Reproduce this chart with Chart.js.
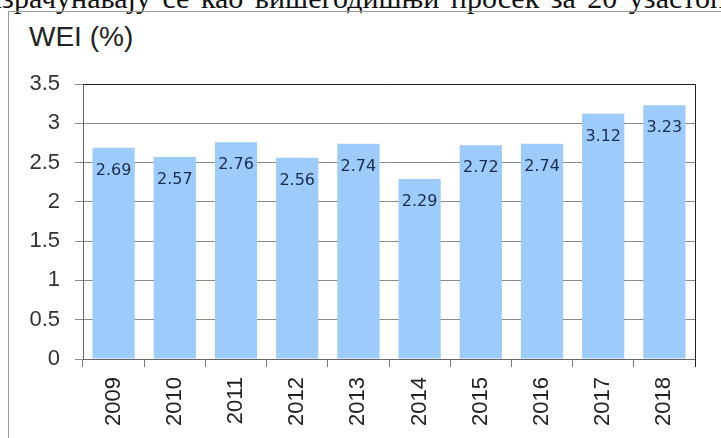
<!DOCTYPE html>
<html>
<head>
<meta charset="utf-8">
<script src="https://cdn.jsdelivr.net/npm/chart.js@4.4.0/dist/chart.umd.min.js"></script>
<style>
    html, body { margin: 0; padding: 0; background: #fff; }
    body { width: 721px; height: 438px; overflow: hidden; position: relative; }
    #textoArriba {
        position: absolute; left: -14px; top: -17px; white-space: nowrap;
        font-family: 'Liberation Serif', serif; font-size: 30px; line-height: 30px; color: #111;
        word-spacing: 4px;
    }
    #marco {
        position: absolute; left: 8px; top: 11px; width: 800px; height: 500px;
        border: 1px solid #9a9a9a;
    }
    #titulo {
        position: absolute; left: 29px; top: 23px; line-height: 28px;
        font-family: 'Liberation Sans', Arial, sans-serif; font-size: 28px; color: #222;
    }
    #contenedor { position: absolute; left: 0; top: 0; width: 721px; height: 438px; }
</style>
</head>
<body>
<div id="textoArriba">израчунавају се као вишегодишњи просек за 20 узастопних</div>
<div id="marco"></div>
<div id="titulo">WEI (%)</div>
<div id="contenedor"><canvas id="graficoWEI"></canvas></div>

<script>
// Datos del grafico
const anios = ['2009', '2010', '2011', '2012', '2013', '2014', '2015', '2016', '2017', '2018'];
const valoresWEI = [2.69, 2.57, 2.76, 2.56, 2.74, 2.29, 2.72, 2.74, 3.12, 3.23];
const etiquetasEjeY = [0, 0.5, 1, 1.5, 2, 2.5, 3, 3.5];

// Etiquetas dentro de cada barra, y borde superior/derecho del area
const pluginEtiquetas = {
    id: 'etiquetasBarras',
    afterDatasetsDraw(chart) {
        const ctx = chart.ctx;
        const area = chart.chartArea;
        const meta = chart.getDatasetMeta(0);

        ctx.save();
        ctx.strokeStyle = '#222';
        ctx.lineWidth = 1;
        ctx.beginPath();
        ctx.moveTo(area.left, Math.round(area.top) + 0.5);
        ctx.lineTo(Math.round(area.right) + 0.5, Math.round(area.top) + 0.5);
        ctx.lineTo(Math.round(area.right) + 0.5, area.bottom + 8);
        ctx.stroke();

        ctx.fillStyle = '#1c2a4c';
        ctx.font = '16px "DejaVu Sans", Verdana, sans-serif';
        ctx.textAlign = 'center';
        ctx.textBaseline = 'middle';
        meta.data.forEach(function (barra, i) {
            ctx.fillText(valoresWEI[i].toFixed(2), barra.x, barra.y + 23);
        });
        ctx.restore();
    }
};

document.addEventListener('DOMContentLoaded', function () {
    var ctx = document.getElementById('graficoWEI').getContext('2d');

    var myChart = new Chart(ctx, {
        type: 'bar',
        data: {
            labels: anios,
            datasets: [{
                label: 'WEI (%)',
                data: valoresWEI,
                backgroundColor: '#9dcbfb',
                borderWidth: 0,
                barPercentage: 0.69,
                categoryPercentage: 1.0
            }]
        },
        options: {
            responsive: true,
            maintainAspectRatio: false,
            animation: false,
            layout: {
                padding: { left: 0, top: 84, right: 26, bottom: 0 }
            },
            plugins: {
                legend: { display: false },
                tooltip: { enabled: false }
            },
            scales: {
                x: {
                    afterFit: function (escala) { escala.height = 79; },
                    grid: {
                        drawOnChartArea: false,
                        drawTicks: true,
                        tickLength: 8,
                        color: '#777',
                        offset: true
                    },
                    border: { color: '#666', width: 1 },
                    ticks: {
                        minRotation: 90,
                        maxRotation: 90,
                        padding: 10,
                        color: '#222',
                        font: { family: "'Liberation Sans', Arial, sans-serif", size: 22 }
                    }
                },
                y: {
                    min: 0,
                    max: 3.5,
                    afterFit: function (escala) { escala.width = 83; },
                    afterBuildTicks: function (escala) {
                        escala.ticks = etiquetasEjeY.map(v => ({ value: v }));
                    },
                    grid: {
                        color: '#8a8a8a',
                        tickLength: 8,
                        drawTicks: true
                    },
                    border: { color: '#666', width: 1 },
                    ticks: {
                        padding: 15,
                        color: '#333',
                        font: { family: "'Liberation Sans', Arial, sans-serif", size: 22 },
                        callback: function (valor) { return String(valor); }
                    }
                }
            }
        },
        plugins: [pluginEtiquetas]
    });
});
</script>
</body>
</html>
